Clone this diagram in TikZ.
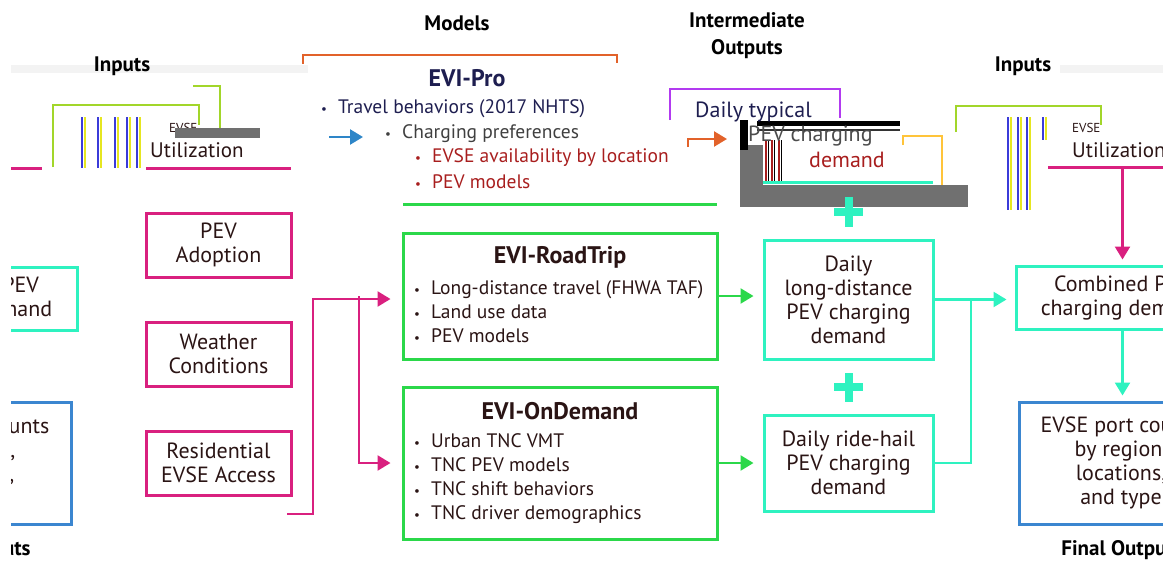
\documentclass[tikz,border=0pt]{standalone}
\usepackage{fontspec}
\setmainfont{PT Sans}
\usetikzlibrary{arrows.meta}

\definecolor{inpink}{HTML}{D9207F}
\definecolor{modgreen}{HTML}{2BD84A}
\definecolor{midteal}{HTML}{2EF2C0}
\definecolor{outblue}{HTML}{3B86D0}
\definecolor{proorange}{HTML}{E2622A}
\definecolor{limegreen}{HTML}{A2D62A}
\definecolor{violetline}{HTML}{B23AF0}
\definecolor{goldline}{HTML}{FFC43A}
\definecolor{arrowblue}{HTML}{2E86C8}
\definecolor{glitchgrey}{HTML}{707070}
\definecolor{bandgrey}{HTML}{F3F3F3}
\definecolor{stripeblue}{HTML}{3B3BD9}
\definecolor{stripeyellow}{HTML}{E6E620}
\definecolor{txtdark}{HTML}{2A1414}
\definecolor{txtnavy}{HTML}{1E1E50}
\definecolor{txtred}{HTML}{A81E1E}

\newcommand{\itemdot}{\makebox[17pt][l]{\fontsize{13}{13}\selectfont\textbullet}}

\tikzset{
  inbox/.style={draw=inpink, line width=3pt, minimum width=145pt, minimum height=64pt,
    inner sep=0pt, align=center, text=txtdark, font=\fontsize{22}{24}\selectfont},
  modbox/.style={draw=modgreen, line width=3pt, minimum width=314pt, inner sep=0pt},
  midbox/.style={draw=midteal, line width=3pt, minimum width=169pt, inner sep=0pt,
    align=center, text=txtdark, font=\fontsize{22}{24}\selectfont},
  outbox/.style={draw=outblue, line width=3pt, minimum width=204pt, minimum height=122pt,
    inner sep=0pt, align=center, text=txtdark, font=\fontsize{22}{24}\selectfont},
  boxtitle/.style={text=txtdark, font=\bfseries\fontsize{24}{28}\selectfont},
  bullets/.style={anchor=west, align=left, inner sep=0pt, text=txtdark,
    font=\fontsize{19.5}{24}\selectfont},
  colhead/.style={align=center, font=\bfseries\fontsize{21}{27}\selectfont},
  pinkarrow/.style={draw=inpink, line width=2.5pt, -{Triangle[length=13pt,width=15pt]}},
  greenarrow/.style={draw=modgreen, line width=2.5pt, -{Triangle[length=13pt,width=15pt]}},
  tealarrow/.style={draw=midteal, line width=2.5pt, -{Triangle[length=13pt,width=15pt]}},
  plussign/.style={draw=midteal, line width=8pt},
}

\begin{document}
\begin{tikzpicture}[x=1pt,y=-1pt]
    \useasboundingbox (0,0) rectangle (1163,562);
    \clip (0,0) rectangle (1163,562);

    % column headings
    \fill[bandgrey] (11,65) rectangle (308,73);
    \fill[bandgrey] (1060,65) rectangle (1163,73);
    \node[colhead] (inhead) at (122,66) {Inputs};
    \node[colhead] (inheadr) at (1023,66) {Inputs};
    \node[colhead] (modhead) at (457,23) {Models};
    \node[colhead] (midhead) at (747,36) {Intermediate\\Outputs};
    \node[colhead] (finhead) at (1122,550) {Final Outputs};

    % inputs
    \node[inbox] (adopt) at (218.5,245) {PEV\\Adoption};
    \node[inbox] (weather) at (218.5,354) {Weather\\Conditions};
    \node[inbox] (resid) at (218.5,463) {Residential\\EVSE Access};

    % models
    \draw[proorange, line width=2.5pt] (303,64) -- (303,55) -- (617,55) -- (617,63);
    \node[boxtitle, text=txtnavy] (protitle) at (467,78) {EVI-Pro};
    \node[bullets, text=txtnavy] (pro1) at (321,109) {\itemdot Travel behaviors (2017 NHTS)};
    \node[bullets, text=black!75] (pro2) at (385,134) {\itemdot Charging preferences};
    \node[bullets, text=txtred] (pro3) at (415,158) {\itemdot EVSE availability by location};
    \node[bullets, text=txtred] (pro4) at (415,182) {\itemdot PEV models};
    \draw[modgreen, line width=3pt] (403,204) -- (717,204);

    \node[modbox, minimum height=126pt] (road) at (560,296) {};
    \node[boxtitle] (roadtitle) at (560,257) {EVI-RoadTrip};
    \node[bullets] (roadlist) at (414,312) {\itemdot Long-distance travel (FHWA TAF)\\
        \itemdot Land use data\\\itemdot PEV models};

    \node[modbox, minimum height=152pt] (ondem) at (560,463) {};
    \node[boxtitle] (ondemtitle) at (560,411) {EVI-OnDemand};
    \node[bullets] (ondemlist) at (414,479) {\itemdot Urban TNC VMT\\\itemdot TNC PEV models\\
        \itemdot TNC shift behaviors\\\itemdot TNC driver demographics};

    % intermediate outputs
    \draw[violetline, line width=2.5pt] (670,120) -- (670,89) -- (840,89) -- (840,118);
    \fill[glitchgrey] (740,145) rectangle (763,207);
    \fill[glitchgrey] (740,185) rectangle (968,207);
    \fill[black] (740,120) rectangle (748,150);
    \fill[black] (757,121) rectangle (900,126);
    \fill[black!80] (757,129) rectangle (900,131);
    \foreach \x in {766,772,779} {
        \draw[txtred, line width=1.5pt] (\x,140) -- (\x,182);
        \draw[black, line width=1pt] (\x+2,140) -- (\x+2,182);
    }
    \draw[midteal, line width=3pt] (763,182) -- (933,182);
    \draw[goldline, line width=2.5pt] (903,145) -- (903,136) -- (942,136) -- (942,185);
    \node[bullets, text=txtnavy, font=\fontsize{22}{24}\selectfont] (typ1) at (695,112) {Daily typical};
    \node[bullets, text=black!70, font=\fontsize{22}{24}\selectfont] (typ2) at (748,136) {PEV charging};
    \node[text=txtred, font=\fontsize{22}{24}\selectfont] (typ3) at (847,160) {demand};

    \node[midbox, minimum height=119pt] (longd) at (848.5,299.5) {Daily\\long-distance\\PEV charging\\demand};
    \node[midbox, minimum height=96pt] (ride) at (848.5,463) {Daily ride-hail\\PEV charging\\demand};
    \draw[plussign] (834,212) -- (863,212) (848.5,197) -- (848.5,227);
    \draw[plussign] (834,387) -- (863,387) (848.5,373) -- (848.5,402);

    % final outputs
    \node[midbox, minimum width=213pt, minimum height=63pt] (comb) at (1122.5,297.5) {Combined PEV\\charging demand};
    \node[outbox] (ports) at (1121,463) {EVSE port counts\\by region,\\locations,\\and type};

    % top right input, broken
    \draw[limegreen, line width=2.5pt] (956,132) -- (956,106) -- (1101,106) -- (1101,125);
    \foreach \x/\y in {1008/210,1018/210,1027/210,1043/140} {
        \draw[stripeblue, line width=2pt] (\x,117) -- (\x,\y);
        \draw[stripeyellow, line width=1.5pt] (\x+3,117) -- (\x+3,\y);
    }
    \node[bullets, font=\fontsize{13}{15}\selectfont] (utila) at (1072,128) {EVSE};
    \node[bullets, font=\fontsize{21}{24}\selectfont] (utilb) at (1072,150) {Utilization};
    \draw[inpink, line width=3pt] (1048,167) -- (1163,167);
    \coordinate (utilout) at (1122.5,167);

    % top left copy, broken
    \draw[limegreen, line width=2.5pt] (193,86) -- (220,86) -- (220,133);
    \draw[limegreen, line width=2.5pt] (53,167) -- (53,105) -- (199,105) -- (199,125);
    \foreach \x in {82,98,115,127,137} {
        \draw[stripeblue, line width=2pt] (\x,117) -- (\x,168);
        \draw[stripeyellow, line width=1.5pt] (\x+3,117) -- (\x+3,168);
    }
    \node[bullets, font=\fontsize{13}{15}\selectfont] (utilca) at (169,128) {EVSE};
    \fill[glitchgrey] (175,128) rectangle (260,138);
    \node[bullets, font=\fontsize{21}{24}\selectfont] (utilcb) at (150,150) {Utilization};
    \draw[inpink, line width=3pt] (11,168) -- (42,168);
    \draw[inpink, line width=3pt] (146,168) -- (291,168);

    % connectors
    \coordinate (resout) at (287,514);
    \draw[pinkarrow] (resout) -| (313,299) -- ([xshift=-11pt,yshift=-3pt]road.west);
    \draw[pinkarrow] (359,296) |- ([xshift=-11pt]ondem.west);
    \draw[arrowblue, line width=2.5pt, -{Triangle[length=13pt,width=15pt]}] (329,137) -- (363,137);
    \draw[proorange, line width=2.5pt, -{Triangle[length=13pt,width=15pt]}] (688,147) -- (688,139) -- (727,139);
    \draw[greenarrow] (road.east) -- ([xshift=-9pt]road.east -| longd.west);
    \draw[greenarrow] (ondem.east) -- ([xshift=-9pt]ondem.east -| ride.west);
    \draw[tealarrow] (longd.east) -- ([xshift=-8pt]longd.east -| comb.west);
    \draw[midteal, line width=2.5pt] (ride.east) -| (971,299.5);
    \draw[pinkarrow] (utilout) -- ([yshift=5pt]comb.north);
    \draw[tealarrow] (comb.south) -- ([yshift=5pt]comb.south |- ports.north);

    % right edge wraps round to the left
    \begin{scope}
        \clip (11,0) rectangle (300,562);
        \begin{scope}[xshift=-1152pt]
            \node[midbox, minimum width=213pt, minimum height=63pt] (combw) at (1122.5,299) {Combined PEV\\charging demand};
            \node[outbox] (portsw) at (1121,463.5) {EVSE port counts\\by region,\\locations,\\and type};
            \node[colhead] (finheadw) at (1122,550) {Final Outputs};
        \end{scope}
    \end{scope}
\end{tikzpicture}
\end{document}
